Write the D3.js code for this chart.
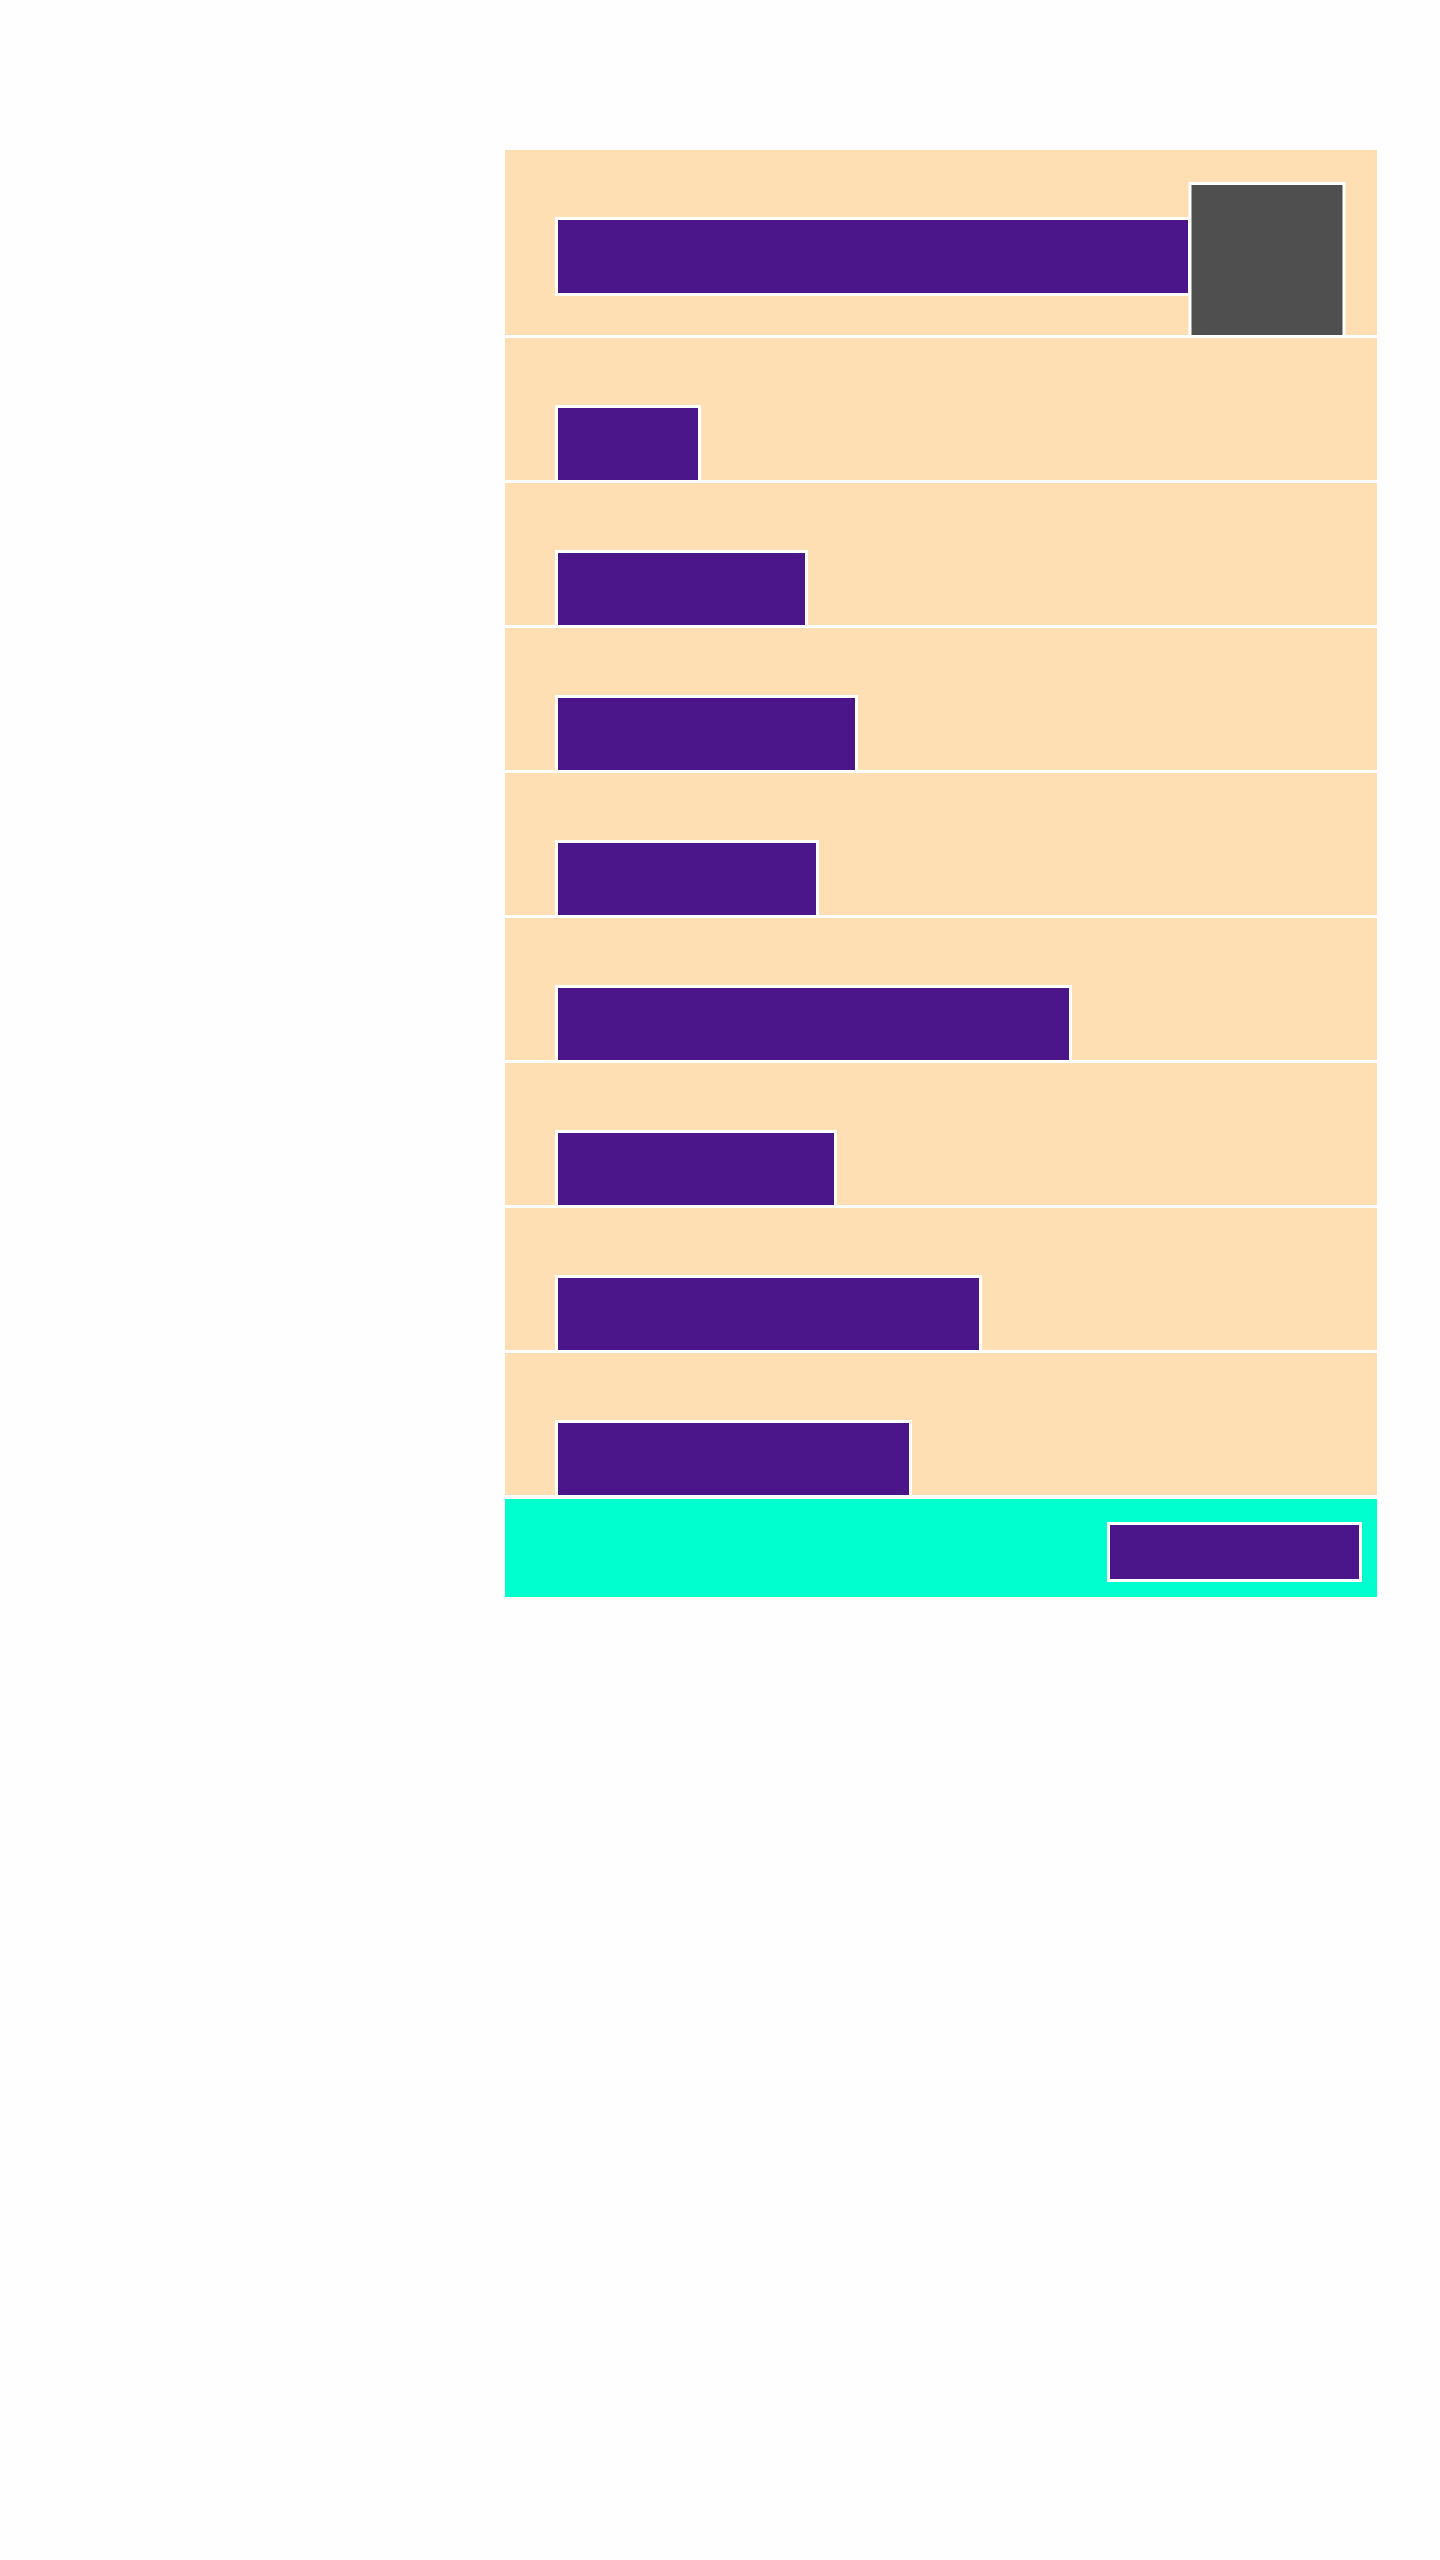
<!DOCTYPE html>
<html>
<head>
<meta charset="utf-8">
<script src="https://cdn.jsdelivr.net/npm/d3@7/dist/d3.min.js"></script>
<style>
  html, body { margin: 0; padding: 0; background: #fefefe; }
  svg { display: block; }
</style>
</head>
<body>
<div id="chart"></div>
<script>
// ---- data ----
const categories = ["A", "B", "C", "D", "E", "F", "G", "H", "I"];
const values = [633, 143, 250, 300, 261, 514, 279, 424, 354];
const markerRange = [633, 787];      // grey box in first row
const highlightRange = [552, 804];   // bar in the highlighted (last) row
const xDomain = [0, 820];

(function () {
// ---- layout ----
const W = 1440, H = 2560;
const bandLeft = 505, bandRight = 1377;
const barStart = 556.5;
const colors = { band: "#fddfb3", bar: "#4a168a", marker: "#4f4f4f", highlight: "#00ffcf" };

const svg = d3.select("#chart").append("svg").attr("width", W).attr("height", H);

const x = d3.scaleLinear().domain(xDomain).range([barStart, barStart + 820]);

// rows 2..9 band scale
const rest = categories.slice(1);
const y = d3.scaleBand().domain(rest).range([338, 338 + 145 * rest.length - 3])
  .paddingInner(3 / 145).paddingOuter(0).align(0);

const firstRow = { y: 150, h: 185 };
const hlRow = { y: 1499, h: 98 };

// background bands
svg.append("rect").attr("x", bandLeft).attr("y", firstRow.y).attr("width", bandRight - bandLeft).attr("height", firstRow.h).attr("fill", colors.band);
svg.selectAll("rect.band").data(rest).join("rect").attr("class", "band")
  .attr("x", bandLeft).attr("y", d => y(d)).attr("width", bandRight - bandLeft).attr("height", y.bandwidth())
  .attr("fill", colors.band);
svg.append("rect").attr("x", bandLeft).attr("y", hlRow.y).attr("width", bandRight - bandLeft).attr("height", hlRow.h).attr("fill", colors.highlight);

// first row bar
svg.append("rect").attr("x", x(0)).attr("y", 218.5).attr("width", x(values[0]) - x(0)).attr("height", 76)
  .attr("fill", colors.bar).attr("stroke", "#fff").attr("stroke-width", 3);

// other bars
svg.selectAll("rect.bar").data(rest.map((c, i) => ({ c, v: values[i + 1] }))).join("rect").attr("class", "bar")
  .attr("x", x(0)).attr("y", d => y(d.c) + 68.5).attr("width", d => x(d.v) - x(0))
  .attr("height", d => y.bandwidth() - 67)
  .attr("fill", colors.bar).attr("stroke", "#fff").attr("stroke-width", 3);

// grey marker box
svg.append("rect").attr("x", x(markerRange[0]) + 0.5).attr("y", 183.5)
  .attr("width", x(markerRange[1]) - x(markerRange[0])).attr("height", 153)
  .attr("fill", colors.marker).attr("stroke", "#fff").attr("stroke-width", 3);

// highlighted row bar
svg.append("rect").attr("x", x(highlightRange[0])).attr("y", 1523.5)
  .attr("width", x(highlightRange[1]) - x(highlightRange[0])).attr("height", 57)
  .attr("fill", colors.bar).attr("stroke", "#fff").attr("stroke-width", 3);
})();
</script>
</body>
</html>
